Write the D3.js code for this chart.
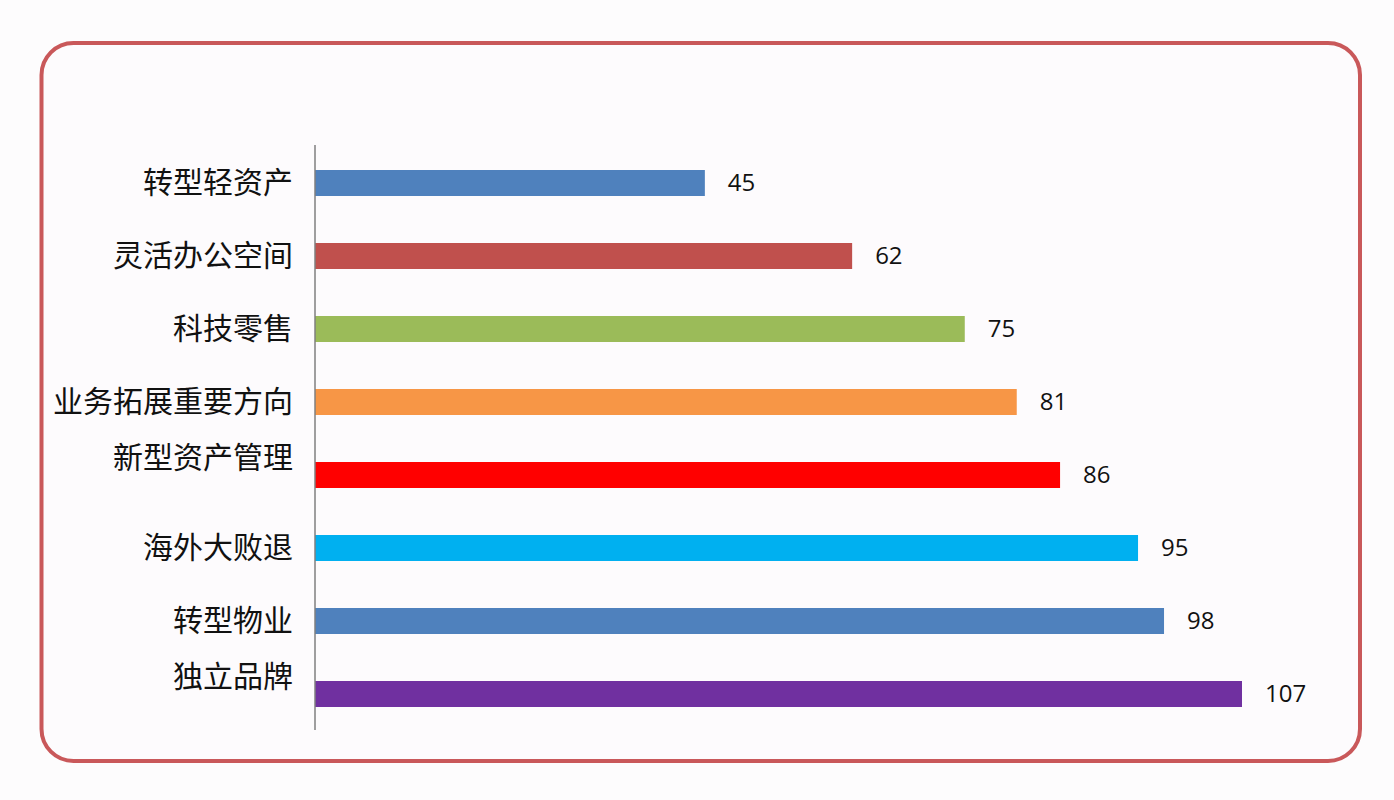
<!DOCTYPE html>
<html><head><meta charset="utf-8">
<script src="https://cdn.jsdelivr.net/npm/d3@7"></script>
<style>
html,body{margin:0;padding:0;background:#fdfcfd;}
svg{display:block;}
</style></head>
<body>
<svg id="chart" width="1394" height="800"></svg>
<script>
// Categories (a trailing line break pushes the label up, as in the source)
const categories = ["转型轻资产", "灵活办公空间", "科技零售", "业务拓展重要方向", "新型资产管理\n", "海外大败退", "转型物业", "独立品牌\n"];
const values = [45, 62, 75, 81, 86, 95, 98, 107];
const barColors = ["#4f81bd", "#c0504d", "#9bbb59", "#f79646", "#ff0000", "#00b0f0", "#4f81bd", "#7030a0"];

const svg = d3.select("#chart");
svg.append("rect").attr("width", 1394).attr("height", 800).attr("fill", "#fdfcfd");
svg.append("rect")
  .attr("x", 41.5).attr("y", 43).attr("width", 1318.5).attr("height", 718)
  .attr("rx", 32).attr("ry", 32)
  .attr("fill", "#fdfbfd").attr("stroke", "#c9585a").attr("stroke-width", 4);

const x = d3.scaleLinear().domain([0, 107]).range([315, 1242]);
const y = d3.scaleBand().domain(categories).range([146.5, 730.5])
  .paddingInner(0.644).paddingOuter(0.322);

const data = categories.map((c, i) => ({c, v: values[i], color: barColors[i]}));

svg.append("g").selectAll("rect").data(data).join("rect")
  .attr("x", x(0)).attr("y", d => y(d.c))
  .attr("width", d => x(d.v) - x(0)).attr("height", y.bandwidth())
  .attr("fill", d => d.color);

// axis line
const axis = svg.append("g").attr("transform", `translate(${x(0)},0)`)
  .call(d3.axisLeft(y).tickSize(0).tickFormat(""));
axis.select(".domain").attr("stroke", "#7f7f7f").attr("stroke-width", 1.5)
  .attr("d", "M0,145V730");

// category labels
const lineH = 34;
const labels = svg.append("g")
  .attr("font-family", "'Noto Sans CJK SC', 'Noto Sans', sans-serif")
  .attr("font-size", 30).attr("fill", "#111");
data.forEach(d => {
  const lines = d.c.split("\n");
  const cy = y(d.c) + y.bandwidth() / 2 - 3;
  const t = labels.append("text").attr("text-anchor", "end")
    .attr("x", 293).attr("dominant-baseline", "central");
  lines.forEach((ln, j) => {
    t.append("tspan").attr("x", 293)
      .attr("y", cy + (j - (lines.length - 1) / 2) * lineH)
      .text(ln);
  });
});

// value labels
svg.append("g")
  .attr("font-family", "'Open Sans', 'Noto Sans', sans-serif")
  .attr("font-size", 24).attr("fill", "#111")
  .selectAll("text").data(data).join("text")
  .attr("x", d => x(d.v) + 23)
  .attr("y", d => y(d.c) + y.bandwidth() / 2 - 2)
  .attr("dominant-baseline", "central")
  .text(d => d.v);
</script>
</body></html>
